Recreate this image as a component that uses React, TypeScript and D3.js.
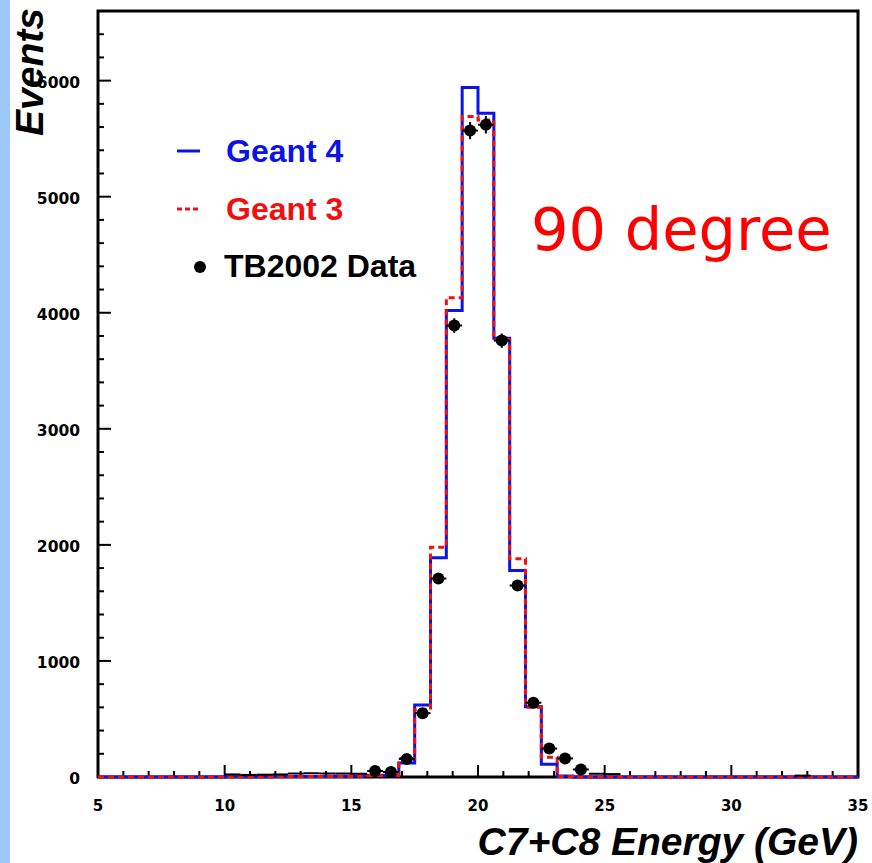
import React from 'react';
import * as d3 from 'd3';

// ---- data ----
const X_DOMAIN: [number, number] = [5, 35];
const Y_DOMAIN: [number, number] = [0, 6600];
const BIN_WIDTH = 0.625; // 48 bins between 5 and 35 GeV
const X_TICKS = [5, 10, 15, 20, 25, 30, 35];
const Y_TICKS = [0, 1000, 2000, 3000, 4000, 5000, 6000];

// Geant 4 (blue, solid)
const geant4 = [
  0, 0, 0, 0, 0, 0, 0, 0,
  3, 3, 3, 4, 5, 5, 5, 6,
  8, 12, 15, 120, 620, 1890, 4020, 5940,
  5720, 3780, 1780, 605, 110, 8, 0, 0,
  0, 0, 0, 0, 0, 0, 0, 0,
  0, 0, 0, 0, 0, 0, 0, 0,
];
// Geant 3 (red, dashed)
const geant3 = [
  0, 0, 0, 0, 0, 0, 0, 0,
  2, 2, 3, 3, 4, 4, 5, 5,
  7, 10, 14, 160, 580, 1980, 4130, 5690,
  5660, 3770, 1880, 600, 170, 5, 0, 0,
  0, 0, 0, 0, 0, 0, 0, 0,
  0, 0, 0, 0, 0, 0, 0, 0,
];
// TB2002 test-beam data (black points)
const tbData = [
  0, 0, 0, 0, 0, 0, 0, 0,
  22, 18, 20, 22, 30, 32, 30, 30,
  28, 52, 43, 155, 550, 1710, 3890, 5570,
  5620, 3760, 1650, 640, 245, 160, 65, 28,
  25, 0, 0, 0, 0, 0, 0, 0,
  0, 0, 0, 0, 12, 0, 0, 0,
];
const legendLabels = ['Geant 4', 'Geant 3', 'TB2002 Data'];
const legendColors = ['#0a14e6', '#f01010', '#000000'];
const xTitle = 'C7+C8 Energy (GeV)';
const yTitle = 'Events';
const note = '90 degree';

export default function App() {
  const W = 872, H = 863;
  const L = 98, R = 858, T = 11, B = 777;
  const x = d3.scaleLinear().domain(X_DOMAIN).range([L, R]);
  const y = d3.scaleLinear().domain(Y_DOMAIN).range([B, T]);
  const edges = geant4.map((_, i) => X_DOMAIN[0] + i * BIN_WIDTH);

  const stepPath = (vals: number[]) =>
    d3.line<[number, number]>().curve(d3.curveStepAfter)([
      ...vals.map((v, i) => [x(edges[i]), y(v)] as [number, number]),
      [x(X_DOMAIN[1]), y(vals[vals.length - 1])],
    ]) || '';

  const xMinor = d3.range(X_DOMAIN[0], X_DOMAIN[1] + 0.001, 1).filter((v) => !X_TICKS.includes(v));
  const yMinor = d3.range(0, Y_DOMAIN[1], 200).filter((v) => v % 1000 !== 0);

  const tickFont = "'DejaVu Sans', sans-serif";
  const titleFont = "'Liberation Sans', Arial, sans-serif";

  return (
    <svg width={W} height={H} style={{ position: 'absolute', left: 0, top: 0, display: 'block' }}>
      <rect x={0} y={0} width={W} height={H} fill="#ffffff" />
      <rect x={0} y={0} width={10} height={H} fill="#9cc9fa" />

      {/* frame */}
      <rect x={L} y={T} width={R - L} height={B - T} fill="none" stroke="#000" strokeWidth={3} />

      {/* x ticks */}
      {X_TICKS.map((t) => (
        <g key={'xt' + t}>
          <line x1={x(t)} x2={x(t)} y1={B} y2={B - 12} stroke="#000" strokeWidth={2} />
          <text x={x(t)} y={811} textAnchor="middle" fontFamily={tickFont} fontWeight="bold" fontSize={15}>
            {t}
          </text>
        </g>
      ))}
      {xMinor.map((t) => (
        <line key={'xm' + t} x1={x(t)} x2={x(t)} y1={B} y2={B - 6} stroke="#000" strokeWidth={2} />
      ))}

      {/* y ticks */}
      {Y_TICKS.map((t) => (
        <g key={'yt' + t}>
          <line x1={L} x2={L + 13} y1={y(t)} y2={y(t)} stroke="#000" strokeWidth={2} />
          <text x={80} y={y(t) + 7} textAnchor="end" fontFamily={tickFont} fontWeight="bold" fontSize={15.5}>
            {t}
          </text>
        </g>
      ))}
      {yMinor.map((t) => (
        <line key={'ym' + t} x1={L} x2={L + 6} y1={y(t)} y2={y(t)} stroke="#000" strokeWidth={2} />
      ))}

      {/* histograms */}
      <path d={stepPath(geant4)} fill="none" stroke={legendColors[0]} strokeWidth={3} />
      <path d={stepPath(geant3)} fill="none" stroke={legendColors[1]} strokeWidth={3} strokeDasharray="6,4" />

      {/* data points */}
      {tbData.map((v, i) => {
        if (v <= 0) return null;
        const cx = x(edges[i] + BIN_WIDTH / 2);
        const cy = y(v);
        const err = Math.sqrt(v);
        return (
          <g key={'d' + i}>
            <line x1={x(edges[i])} x2={x(edges[i] + BIN_WIDTH)} y1={cy} y2={cy} stroke="#000" strokeWidth={2} />
            <line x1={cx} x2={cx} y1={y(v + err)} y2={y(Math.max(0, v - err))} stroke="#000" strokeWidth={2} />
            {v >= 40 && <circle cx={cx} cy={cy} r={6} fill="#000" />}
          </g>
        );
      })}

      {/* legend */}
      <line x1={177} x2={200} y1={151} y2={151} stroke={legendColors[0]} strokeWidth={3} />
      <text x={226} y={162} fontFamily={titleFont} fontWeight="bold" fontSize={32} fill={legendColors[0]}>
        {legendLabels[0]}
      </text>
      <line x1={177} x2={200} y1={209} y2={209} stroke={legendColors[1]} strokeWidth={3} strokeDasharray="5,3" />
      <text x={226} y={220} fontFamily={titleFont} fontWeight="bold" fontSize={32} fill={legendColors[1]}>
        {legendLabels[1]}
      </text>
      <circle cx={200} cy={267} r={6} fill={legendColors[2]} />
      <text x={224} y={277} fontFamily={titleFont} fontWeight="bold" fontSize={32} fill={legendColors[2]}>
        {legendLabels[2]}
      </text>

      {/* note */}
      <text x={531} y={250} fontFamily="'DejaVu Sans', sans-serif" fontSize={59} fill="#ff0000">
        {note}
      </text>

      {/* axis titles */}
      <text x={858} y={855} textAnchor="end" fontFamily={titleFont} fontWeight="bold" fontStyle="italic" fontSize={39}>
        {xTitle}
      </text>
      <text
        transform="translate(43,8) rotate(-90)"
        textAnchor="end"
        fontFamily={titleFont}
        fontWeight="bold"
        fontStyle="italic"
        fontSize={39}
      >
        {yTitle}
      </text>
    </svg>
  );
}
